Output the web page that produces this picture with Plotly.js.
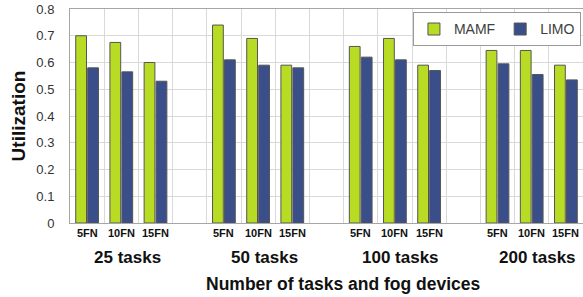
<!DOCTYPE html>
<html>
<head>
<meta charset="utf-8">
<script src="https://cdn.plot.ly/plotly-3.0.1.min.js"></script>
<style>html,body{margin:0;padding:0;background:#fff;}#chart{width:583px;height:297px;}</style>
</head>
<body>
<div id="chart"></div>
<script>
// ---- data ----
const groups = ['25 tasks', '50 tasks', '100 tasks', '200 tasks'];
const fogNodes = ['5FN', '10FN', '15FN'];
const mamf = [0.70, 0.675, 0.60,  0.74, 0.69, 0.59,  0.66, 0.69, 0.59,  0.645, 0.645, 0.59];
const limo = [0.58, 0.565, 0.53,  0.61, 0.59, 0.58,  0.62, 0.61, 0.57,  0.595, 0.555, 0.535];
const yTicks = [0, 0.1, 0.2, 0.3, 0.4, 0.5, 0.6, 0.7, 0.8];
const yTickText = ['0', '0.1', '0.2', '0.3', '0.4', '0.5', '0.6', '0.7', '0.8'];

// slot positions: 3 bars per group plus one empty slot
const slotsPerGroup = fogNodes.length + 1;
const xs = [];
const fogLabels = [];
groups.forEach((g, gi) => fogNodes.forEach((f, fi) => { xs.push(gi * slotsPerGroup + fi); fogLabels.push(f); }));
const nSlots = groups.length * slotsPerGroup - 1;
const gridVals = [];
for (let i = 0; i <= nSlots; i++) gridVals.push(i - 0.5);

const FONT = 'Arial, "Liberation Sans", sans-serif';

const traces = [
  { type: 'bar', name: 'MAMF', x: xs, y: mamf,
    marker: { color: '#b8dc24', line: { color: '#555555', width: 1 } } },
  { type: 'bar', name: 'LIMO', x: xs, y: limo,
    marker: { color: '#3a4f8a', line: { color: '#555555', width: 1 } } }
];

const annotations = [];
xs.forEach((x, i) => annotations.push({
  x: x, y: 0, xref: 'x', yref: 'paper', yanchor: 'middle', yshift: -10,
  text: '<b>' + fogLabels[i] + '</b>', showarrow: false,
  font: { family: FONT, size: 11, color: '#111' }
}));
groups.forEach((g, gi) => annotations.push({
  x: gi * slotsPerGroup + (fogNodes.length - 1) / 2, y: 0, xref: 'x', yref: 'paper',
  yanchor: 'middle', yshift: -34, xshift: 6,
  text: '<b>' + g + '</b>', showarrow: false,
  font: { family: FONT, size: 17, color: '#111' }
}));
annotations.push({
  x: 0.5, y: 0, xref: 'paper', yref: 'paper', yanchor: 'middle', yshift: -61, xshift: 17,
  text: '<b>Number of tasks and fog devices</b>', showarrow: false,
  font: { family: FONT, size: 17.5, color: '#111' }
});

const layout = {
  width: 583, height: 297,
  margin: { l: 70, r: 0, t: 9, b: 74, pad: 0 },
  paper_bgcolor: '#ffffff', plot_bgcolor: '#ffffff',
  font: { family: FONT, color: '#333' },
  barmode: 'group', bargap: 0.3, bargroupgap: 0.1,
  showlegend: true,
  legend: {
    orientation: 'h', x: 0.996, xanchor: 'right', y: 0.984, yanchor: 'top',
    bgcolor: '#ffffff', bordercolor: '#999999', borderwidth: 1,
    font: { family: FONT, size: 14, color: '#404040' },
    itemwidth: 30, tracegroupgap: 0
  },
  xaxis: {
    range: [-0.5, nSlots - 0.5],
    tickvals: gridVals, showticklabels: false, ticks: '',
    showgrid: true, gridcolor: '#d9d9d9', gridwidth: 1,
    showline: true, linecolor: '#a6a6a6', linewidth: 1, mirror: true,
    zeroline: false, fixedrange: true
  },
  yaxis: {
    range: [0, 0.8], tickvals: yTicks, ticktext: yTickText,
    showgrid: true, gridcolor: '#d9d9d9', gridwidth: 1,
    showline: true, linecolor: '#a6a6a6', linewidth: 1,
    zeroline: false, ticks: '', ticklabelstandoff: 12,
    tickfont: { family: FONT, size: 13, color: '#333' },
    title: { text: '<b>Utilization</b>', standoff: 5, font: { family: FONT, size: 19, color: '#111' } },
    fixedrange: true
  },
  annotations: annotations
};

Plotly.newPlot('chart', traces, layout, { displayModeBar: false, staticPlot: true });
</script>
</body>
</html>
